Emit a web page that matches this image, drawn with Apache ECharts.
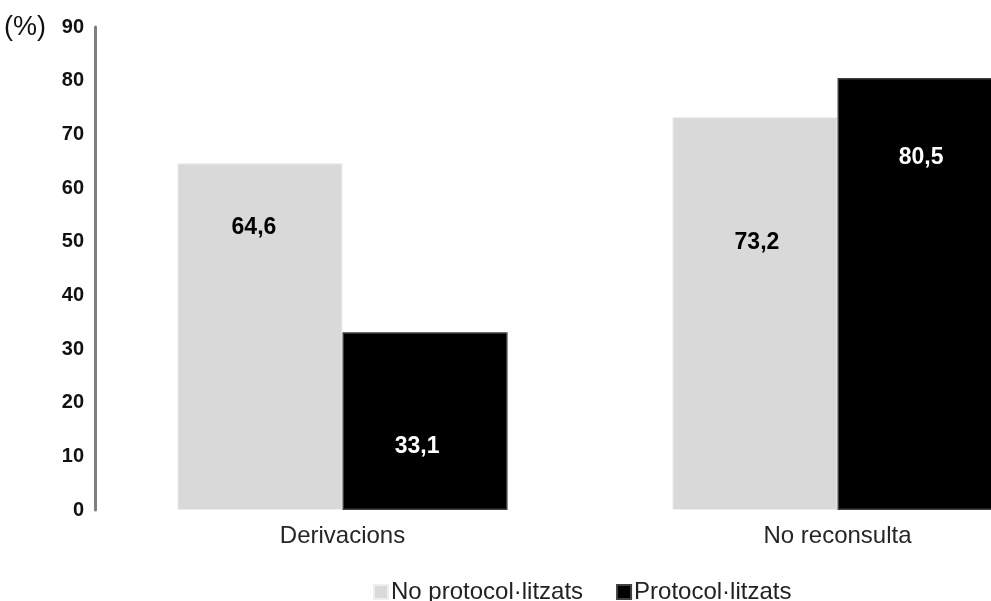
<!DOCTYPE html>
<html>
<head>
<meta charset="utf-8">
<script src="https://cdn.jsdelivr.net/npm/echarts@6/dist/echarts.min.js"></script>
<style>
  html, body { margin: 0; padding: 0; background: #fff; overflow: hidden; }
  /* The plot runs past the right edge of the window, so the canvas is wider than the view */
  #chart { width: 1085px; height: 601px; }
</style>
</head>
<body>
<div id="chart"></div>
<script>
// Categories and series values (percent)
const categories = ['Derivacions', 'No reconsulta'];
const seriesNames = ['No protocol·litzats', 'Protocol·litzats'];
const noProtocol = [64.6, 73.2];
const protocol = [33.1, 80.5];
const yTicks = { min: 0, max: 90, step: 10 };
const unitLabel = '(%)';

// Hand-placed value labels: distance below the bar top and horizontal nudge
const labelDrop = { noProtocol: [53, 114], protocol: [103, 68] };
const labelNudge = { noProtocol: [-6, 2], protocol: [-8, 1] };

const FONT = '"Liberation Sans", Arial, sans-serif';
const fmt = v => v.toFixed(1).replace('.', ',');

const chart = echarts.init(document.getElementById('chart'));

function buildData(values, drops, nudges) {
  return values.map((v, i) => ({
    value: v,
    label: { position: 'insideTop', distance: drops[i], offset: [nudges[i], 0] }
  }));
}

const valueLabel = color => ({
  show: true,
  color: color,
  fontFamily: FONT,
  fontSize: 23,
  fontWeight: 'bold',
  formatter: p => fmt(p.value)
});

chart.setOption({
  animation: false,
  grid: { left: 95, right: 0, top: 27, bottom: 91, containLabel: false },
  graphic: [{
    type: 'text',
    left: 4,
    top: 14,
    style: { text: unitLabel, font: '27px ' + FONT, fill: '#111' }
  }],
  legend: {
    left: 368,
    top: 575,
    itemWidth: 14,
    itemHeight: 14,
    itemGap: 33,
    icon: 'rect',
    textStyle: { fontFamily: FONT, fontSize: 24, color: '#222', padding: [0, 0, 0, -2] },
    data: seriesNames
  },
  xAxis: {
    type: 'category',
    data: categories,
    axisLine: { show: false },
    axisTick: { show: false },
    axisLabel: { margin: 14, fontFamily: FONT, fontSize: 24, color: '#262626' }
  },
  yAxis: {
    type: 'value',
    min: yTicks.min,
    max: yTicks.max,
    interval: yTicks.step,
    splitLine: { show: false },
    axisTick: { show: false },
    axisLine: { show: true, lineStyle: { color: '#7f7f7f', width: 3 } },
    axisLabel: { margin: 11, fontFamily: FONT, fontSize: 20, fontWeight: 'bold', color: '#111' }
  },
  series: [
    {
      name: seriesNames[0],
      type: 'bar',
      barGap: '0%',
      barCategoryGap: '33.3%',
      itemStyle: { color: '#d9d9d9', borderColor: '#eeeeee', borderWidth: 1 },
      label: valueLabel('#000'),
      data: buildData(noProtocol, labelDrop.noProtocol, labelNudge.noProtocol)
    },
    {
      name: seriesNames[1],
      type: 'bar',
      barGap: '0%',
      barCategoryGap: '33.3%',
      itemStyle: { color: '#000000', borderColor: '#404040', borderWidth: 1.5 },
      label: valueLabel('#fff'),
      data: buildData(protocol, labelDrop.protocol, labelNudge.protocol)
    }
  ]
});
</script>
</body>
</html>
